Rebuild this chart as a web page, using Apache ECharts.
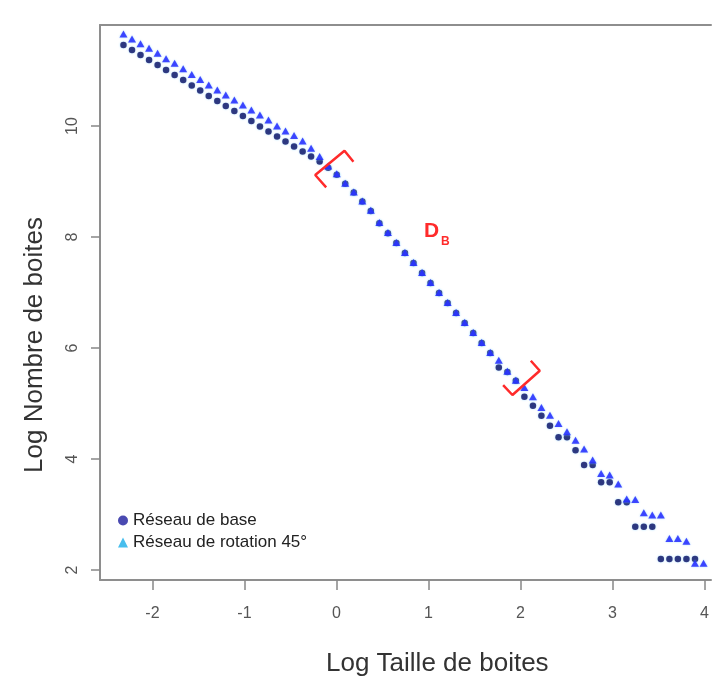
<!DOCTYPE html>
<html>
<head>
<meta charset="utf-8">
<script src="https://cdn.jsdelivr.net/npm/echarts@6/dist/echarts.min.js"></script>
<style>
html,body{margin:0;padding:0;background:#fff;}
#chart{width:712px;height:682px;}
</style>
</head>
<body>
<div id="chart"></div>
<script>
// Log box size (x) shared by both series
const logTaille = [
  -2.315, -2.222, -2.130, -2.037, -1.944, -1.852, -1.759, -1.666, -1.573, -1.481,
  -1.388, -1.295, -1.203, -1.110, -1.017, -0.925, -0.832, -0.739, -0.646, -0.554,
  -0.461, -0.368, -0.276, -0.183, -0.090, 0.003, 0.095, 0.188, 0.281, 0.373,
  0.466, 0.559, 0.651, 0.744, 0.837, 0.930, 1.022, 1.115, 1.208, 1.300,
  1.393, 1.486, 1.578, 1.671, 1.764, 1.857, 1.949, 2.042, 2.135, 2.227,
  2.320, 2.413, 2.505, 2.598, 2.691, 2.784, 2.876, 2.969, 3.062, 3.154,
  3.247, 3.340, 3.432, 3.525, 3.618, 3.710, 3.803, 3.896, 3.989, 4.081
];
// Réseau de base (circles)
const reseauBase = [
  11.46, 11.37, 11.28, 11.19, 11.10, 11.01, 10.92, 10.83, 10.73, 10.64,
  10.54, 10.45, 10.36, 10.27, 10.18, 10.09, 9.99, 9.90, 9.81, 9.72,
  9.63, 9.54, 9.45, 9.36, 9.25, 9.12, 8.96, 8.80, 8.64, 8.47,
  8.25, 8.07, 7.89, 7.71, 7.53, 7.35, 7.17, 6.99, 6.81, 6.63,
  6.45, 6.27, 6.09, 5.91, 5.65, 5.57, 5.41, 5.12, 4.96, 4.78,
  4.60, 4.39, 4.39, 4.16, 3.89, 3.89, 3.58, 3.58, 3.22, 3.22,
  2.78, 2.78, 2.78, 2.20, 2.20, 2.20, 2.20, 2.20, null, null
];
// Réseau de rotation 45° (triangles)
const reseauRotation = [
  11.66, 11.57, 11.48, 11.40, 11.31, 11.21, 11.13, 11.03, 10.93, 10.84,
  10.74, 10.65, 10.56, 10.47, 10.38, 10.29, 10.20, 10.11, 10.00, 9.91,
  9.83, 9.73, 9.60, 9.45, 9.28, 9.14, 8.97, 8.81, 8.65, 8.48,
  8.26, 8.08, 7.90, 7.72, 7.54, 7.36, 7.18, 7.00, 6.82, 6.64,
  6.46, 6.28, 6.10, 5.92, 5.78, 5.58, 5.42, 5.29, 5.12, 4.93,
  4.79, 4.64, 4.49, 4.34, 4.18, 3.98, 3.74, 3.71, 3.55, 3.28,
  3.27, 3.03, 2.99, 2.99, 2.57, 2.57, 2.52, 2.12, 2.12, 2.12
];
const xTicks = [-2, -1, 0, 1, 2, 3, 4];
const yTicks = [2, 4, 6, 8, 10];
// red brackets delimiting the D_B fit range (data coordinates)
const bracketDebut = [[0.184, 9.357], [0.087, 9.555], [-0.231, 9.117], [-0.112, 8.895]];
const bracketFin = [[2.112, 5.771], [2.209, 5.591], [1.912, 5.153], [1.811, 5.333]];

const nameBase = 'Réseau de base';
const nameRot = 'Réseau de rotation 45°';

const baseData = [];
const rotData = [];
logTaille.forEach((x, i) => {
  if (reseauBase[i] != null) baseData.push([x, reseauBase[i]]);
  if (reseauRotation[i] != null) rotData.push([x, reseauRotation[i]]);
});

const FONT = 'Liberation Sans, Arial, sans-serif';
const BOX = '#8e8e8e';
const chart = echarts.init(document.getElementById('chart'), null, {renderer: 'canvas'});

const bracketSeries = (data) => ({
  type: 'line', data: data, symbol: 'none', silent: true, z: 5,
  lineStyle: {color: '#ff2b2b', width: 2.5}, animation: false
});

chart.setOption({
  animation: false,
  backgroundColor: '#ffffff',
  grid: {left: 100, top: 25, right: 0, bottom: 102, show: false},
  legend: {
    orient: 'vertical', left: 113, top: 507,
    itemWidth: 10, itemHeight: 10, itemGap: 5,
    textStyle: {fontSize: 17, color: '#222', fontFamily: FONT},
    data: [
      {name: nameBase, icon: 'circle', itemStyle: {color: '#1d1d9e', shadowBlur: 0}},
      {name: nameRot, icon: 'triangle', itemStyle: {color: '#1aaee8', shadowBlur: 0}}
    ]
  },
  xAxis: [
    {
      type: 'value', min: -2.57, max: 4.07, position: 'bottom',
      axisLine: {show: true, onZero: false, lineStyle: {color: BOX, width: 2}},
      splitLine: {show: false},
      axisTick: {show: true, customValues: xTicks, length: 10, lineStyle: {color: '#888', width: 1.5}},
      axisLabel: {customValues: xTicks, fontSize: 16, color: '#555', margin: 26, fontFamily: FONT}
    },
    {
      type: 'value', min: -2.57, max: 4.07, position: 'top',
      axisLine: {show: true, onZero: false, lineStyle: {color: BOX, width: 2}},
      splitLine: {show: false}, axisTick: {show: false}, axisLabel: {show: false}
    }
  ],
  yAxis: {
    type: 'value', min: 1.82, max: 11.82,
    axisLine: {show: true, onZero: false, lineStyle: {color: BOX, width: 2}},
    splitLine: {show: false},
    axisTick: {show: true, customValues: yTicks, length: 9, lineStyle: {color: '#888', width: 1.5}},
    axisLabel: {customValues: yTicks, fontSize: 16, color: '#555', margin: 19, rotate: 90, fontFamily: FONT}
  },
  series: [
    {
      name: nameBase, type: 'scatter', data: baseData, symbol: 'circle', symbolSize: 6.5, z: 2,
      itemStyle: {color: '#0e0e60', shadowBlur: 2, shadowColor: 'rgba(120,205,255,0.9)'}
    },
    {
      name: nameRot, type: 'scatter', data: rotData, symbol: 'triangle', symbolSize: [8, 7], z: 3,
      itemStyle: {color: '#1e1eff', shadowBlur: 2, shadowColor: 'rgba(120,205,255,0.9)'}
    },
    bracketSeries(bracketDebut),
    bracketSeries(bracketFin)
  ],
  graphic: [
    {type: 'text', left: 439 - 113, top: 651,
     style: {text: 'Log Taille de boites', fontSize: 26, fill: '#333', fontFamily: FONT}},
    {type: 'text', x: 35, y: 345, rotation: Math.PI / 2,
     style: {text: 'Log Nombre de boites', fontSize: 26, fill: '#333', fontFamily: FONT, align: 'center', verticalAlign: 'middle'}},
    {type: 'text', left: 424, top: 221,
     style: {text: 'D', fontSize: 21, fontWeight: 'bold', fill: '#ff2b2b', fontFamily: FONT}},
    {type: 'text', left: 441, top: 236,
     style: {text: 'B', fontSize: 12, fontWeight: 'bold', fill: '#ff2b2b', fontFamily: FONT}}
  ]
});
</script>
</body>
</html>
